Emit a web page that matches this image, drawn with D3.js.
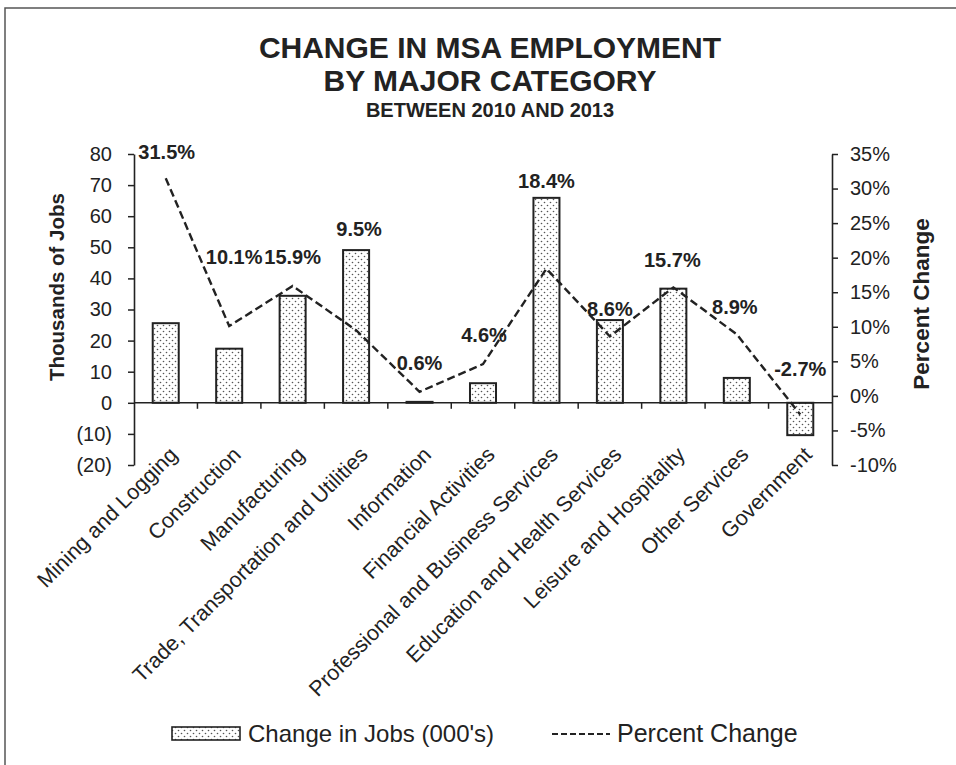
<!DOCTYPE html>
<html>
<head>
<meta charset="utf-8">
<script src="https://cdn.jsdelivr.net/npm/d3@7"></script>
<style>
  body { margin: 0; background: #fff; }
  svg { display: block; }
  text { font-family: "Liberation Sans", Arial, sans-serif; fill: #222; }
</style>
</head>
<body>
<svg id="chart" width="956" height="765"></svg>
<script>
// Employment change by major category, 2010 to 2013
const categories = [
  "Mining and Logging", "Construction", "Manufacturing",
  "Trade, Transportation and Utilities", "Information", "Financial Activities",
  "Professional and Business Services", "Education and Health Services",
  "Leisure and Hospitality", "Other Services", "Government"
];
// change in jobs, thousands
const jobsChange = [25.6, 17.4, 34.4, 49.1, 0.3, 6.3, 65.9, 26.6, 36.7, 8.0, -10.4];
// percent change
const pctChange = [31.5, 10.1, 15.9, 9.5, 0.6, 4.6, 18.4, 8.6, 15.7, 8.9, -2.7];
const jobsTicks = [80, 70, 60, 50, 40, 30, 20, 10, 0, -10, -20];
const pctTicks = [35, 30, 25, 20, 15, 10, 5, 0, -5, -10];
const titleLines = ["CHANGE IN MSA EMPLOYMENT", "BY MAJOR CATEGORY"];
const subtitle = "BETWEEN 2010 AND 2013";
const legendLabels = ["Change in Jobs (000's)", "Percent Change"];

// label placement: lift above the line point (px) and sideways nudge (px)
const labelLift = [26, 69, 29, 101, 29, 29, 88, 28, 28, 28, 46];
const labelShift = [1, 5, 0, 3, 0, 1, 0, 0, -1, -2, 0];

const svg = d3.select("#chart");
const plot = { left: 134, right: 832, top: 154, bottom: 465 };

// frame
svg.append("rect")
  .attr("x", 5).attr("y", 8).attr("width", 1000).attr("height", 1000)
  .attr("fill", "none").attr("stroke", "#555").attr("stroke-width", 1.5);

// dotted fill for bars
const pat = svg.append("defs").append("pattern")
  .attr("id", "dots").attr("patternUnits", "userSpaceOnUse")
  .attr("width", 6).attr("height", 6);
pat.append("rect").attr("width", 6).attr("height", 6).attr("fill", "#fff");
pat.append("circle").attr("cx", 1.5).attr("cy", 1.5).attr("r", 0.8).attr("fill", "#555");
pat.append("circle").attr("cx", 4.5).attr("cy", 4.5).attr("r", 0.8).attr("fill", "#555");

// titles
svg.selectAll("text.title").data(titleLines).join("text")
  .attr("class", "title")
  .attr("x", 490).attr("y", (d, i) => 58 + i * 33)
  .attr("text-anchor", "middle")
  .style("font-size", "30px").style("font-weight", "bold")
  .text(d => d);
svg.append("text")
  .attr("x", 490).attr("y", 117).attr("text-anchor", "middle")
  .style("font-size", "20px").style("font-weight", "bold")
  .text(subtitle);

// scales
const x = d3.scaleBand().domain(categories)
  .range([plot.left, plot.right]).paddingInner(0.59).paddingOuter(0.295);
const yJobs = d3.scaleLinear().domain([-20, 80]).range([plot.bottom, plot.top]);
const yPct = d3.scaleLinear().domain([-10, 35]).range([plot.bottom, plot.top]);

// left axis
const gLeft = svg.append("g").attr("transform", `translate(${plot.left},0)`)
  .call(d3.axisLeft(yJobs).tickValues(jobsTicks).tickSize(6).tickSizeOuter(0).tickPadding(16)
    .tickFormat(d => d < 0 ? `(${-d})` : d));
// right axis
const gRight = svg.append("g").attr("transform", `translate(${plot.right},0)`)
  .call(d3.axisRight(yPct).tickValues(pctTicks).tickSize(6).tickSizeOuter(0).tickPadding(12)
    .tickFormat(d => d + "%"));
[gLeft, gRight].forEach(g => {
  g.select(".domain").attr("stroke", "#222").attr("stroke-width", 1.6);
  g.selectAll(".tick line").attr("stroke", "#222").attr("stroke-width", 1.5);
  g.selectAll(".tick text").attr("fill", "#222")
    .style("font-size", "20px").style("font-family", '"Liberation Sans", Arial, sans-serif');
});

// axis titles
svg.append("text")
  .attr("transform", `translate(64,287) rotate(-90)`)
  .attr("text-anchor", "middle")
  .style("font-size", "20.5px").style("font-weight", "bold")
  .text("Thousands of Jobs");
svg.append("text")
  .attr("transform", `translate(929,304) rotate(-90)`)
  .attr("text-anchor", "middle")
  .style("font-size", "22.5px").style("font-weight", "bold")
  .text("Percent Change");

// bars
const y0 = yJobs(0);
svg.append("g").selectAll("rect").data(categories).join("rect")
  .attr("x", d => x(d))
  .attr("width", x.bandwidth())
  .attr("y", (d, i) => Math.min(yJobs(jobsChange[i]), y0))
  .attr("height", (d, i) => Math.abs(yJobs(jobsChange[i]) - y0))
  .attr("fill", "url(#dots)")
  .attr("stroke", "#222").attr("stroke-width", 2);

// category axis along zero
const gap = (x.step() - x.bandwidth()) / 2;
svg.append("line")
  .attr("x1", plot.left).attr("x2", plot.right)
  .attr("y1", y0).attr("y2", y0)
  .attr("stroke", "#222").attr("stroke-width", 1.6);
svg.append("g").selectAll("line").data(categories.slice(1)).join("line")
  .attr("x1", d => x(d) - gap).attr("x2", d => x(d) - gap)
  .attr("y1", y0).attr("y2", y0 + 6)
  .attr("stroke", "#222").attr("stroke-width", 1.5);

// category labels
svg.append("g").selectAll("text").data(categories).join("text")
  .attr("transform", d => `translate(${x(d) + x.bandwidth() / 2 + 13},456) rotate(-45)`)
  .attr("text-anchor", "end")
  .style("font-size", "21.5px")
  .text(d => d);

// percent change line
const cx = i => x(categories[i]) + x.bandwidth() / 2;
const line = d3.line().x((d, i) => cx(i)).y(d => yPct(d));
svg.append("path")
  .datum(pctChange)
  .attr("d", line)
  .attr("fill", "none")
  .attr("stroke", "#222").attr("stroke-width", 2.4)
  .attr("stroke-dasharray", "8,4");

// percent labels
svg.append("g").selectAll("text").data(pctChange).join("text")
  .attr("x", (d, i) => cx(i) + labelShift[i])
  .attr("y", (d, i) => yPct(d) - labelLift[i])
  .attr("dy", "0.36em")
  .attr("text-anchor", "middle")
  .style("font-size", "20px").style("font-weight", "bold")
  .text(d => d.toFixed(1) + "%");

// legend
const lg = svg.append("g");
lg.append("rect")
  .attr("x", 172).attr("y", 727).attr("width", 68).attr("height", 13)
  .attr("fill", "url(#dots)").attr("stroke", "#222").attr("stroke-width", 1.6);
lg.append("text").attr("x", 248).attr("y", 742)
  .style("font-size", "24px").text(legendLabels[0]);
lg.append("line")
  .attr("x1", 552).attr("x2", 610).attr("y1", 734).attr("y2", 734)
  .attr("stroke", "#222").attr("stroke-width", 2).attr("stroke-dasharray", "6,3");
lg.append("text").attr("x", 617).attr("y", 742)
  .style("font-size", "25px").text(legendLabels[1]);
</script>
</body>
</html>
